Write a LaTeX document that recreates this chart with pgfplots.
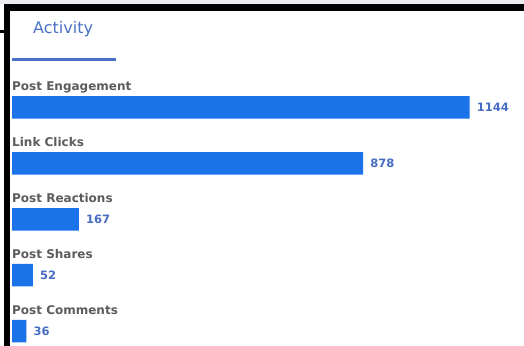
\documentclass[border=0pt]{standalone}
\usepackage{fontspec}
\setmainfont{DejaVu Sans}
\usepackage{pgfplots}
\pgfplotsset{compat=1.18}
\definecolor{barblue}{RGB}{26,115,232}
\definecolor{valblue}{RGB}{70,108,196}
\definecolor{titleblue}{RGB}{74,114,196}
\definecolor{lblgray}{RGB}{92,92,92}
\definecolor{topgray}{RGB}{236,236,240}
\begin{document}
\begin{tikzpicture}
\path[use as bounding box] (0,0) rectangle (524bp,346bp);
\fill[white] (0,0) rectangle (524bp,346bp);
\fill[topgray] (0,342bp) rectangle (524bp,346bp);
\fill[black] (4bp,335bp) rectangle (524bp,342bp);
\fill[black] (4bp,0) rectangle (10bp,342bp);
\fill[black] (0,313bp) rectangle (4bp,316bp);
\node[anchor=base west, inner sep=0, text=titleblue, font=\fontsize{16bp}{18bp}\selectfont] at (33bp,312.8bp) {Activity};
\draw[titleblue, line width=2.5bp] (12bp,286.3bp) -- (116bp,286.3bp);
\begin{axis}[
  at={(0,0)}, anchor=south west,
  scale only axis, width=524bp, height=346bp,
  xbar, bar width=22.5bp,
  xmin=-30, xmax=1280,
  y dir=reverse, ymin=-1.923, ymax=4.267,
  axis line style={draw=none},
  major tick length=0pt,
  xtick=\empty,
  ytick={0,1,2,3,4},
  yticklabels={Post Engagement,Link Clicks,Post Reactions,Post Shares,Post Comments},
  yticklabel style={anchor=base west, inner sep=0pt, xshift=12bp, yshift=17bp,
    text=lblgray, font=\fontsize{12bp}{14bp}\selectfont\bfseries},
  clip=false,
  /pgf/number format/.cd, 1000 sep={}, assume math mode=true, /pgfplots/.cd,
  nodes near coords,
  every node near coord/.append style={anchor=west, inner sep=0pt, xshift=7bp,
    text=valblue, font=\fontsize{11.5bp}{13bp}\selectfont\bfseries},
]
\addplot[fill=barblue, draw=none] coordinates {(1144,0) (878,1) (167,2) (52,3) (36,4)};
\end{axis}
\end{tikzpicture}
\end{document}
